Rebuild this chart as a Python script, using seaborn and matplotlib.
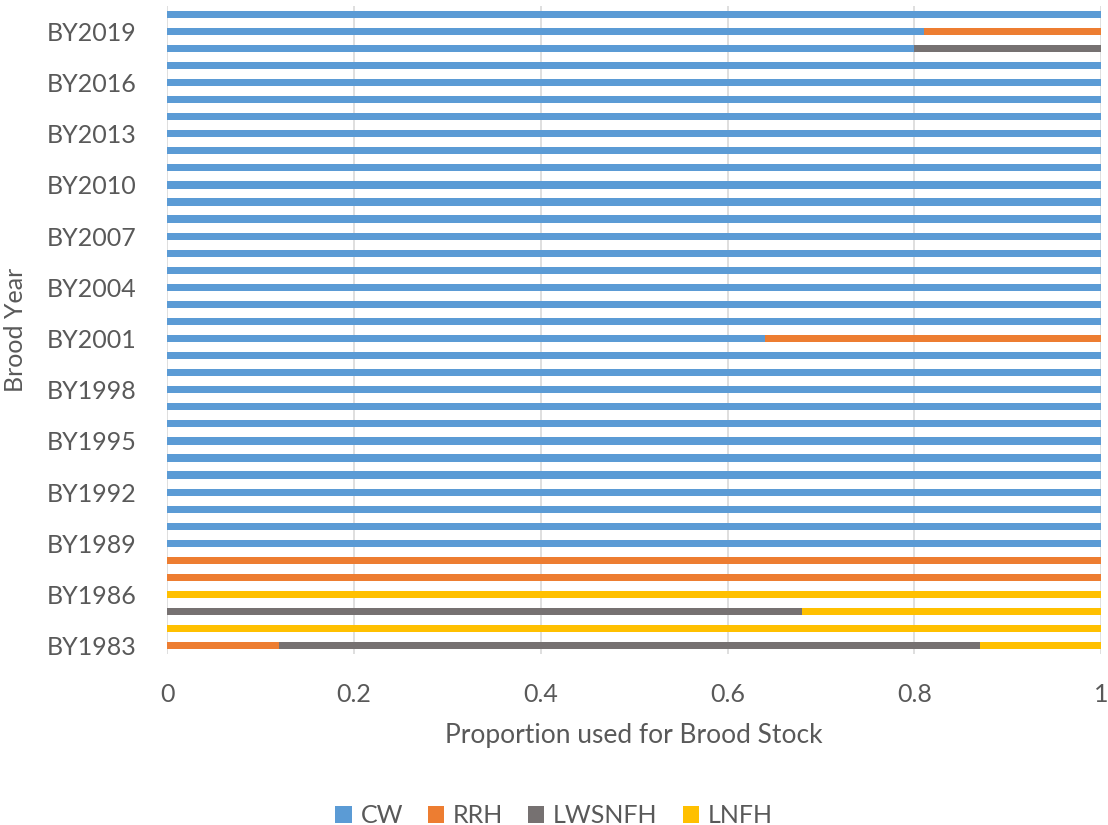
import matplotlib

matplotlib.use("Agg")

import matplotlib.pyplot as plt
import numpy as np
import pandas as pd
import seaborn as sns
from matplotlib.patches import Patch

# brood years, bottom to top
YEARS = [
    1983, 1984, 1985, 1986, 1987, 1988, 1989, 1990, 1991, 1992,
    1993, 1994, 1995, 1996, 1997, 1998, 1999, 2000, 2001, 2002,
    2003, 2004, 2005, 2006, 2007, 2008, 2009, 2010, 2011, 2012,
    2013, 2014, 2015, 2016, 2017, 2018, 2019, 2020,
]

CW = [
    0, 0, 0, 0, 0, 0, 1, 1, 1, 1,
    1, 1, 1, 1, 1, 1, 1, 1, 0.64, 1,
    1, 1, 1, 1, 1, 1, 1, 1, 1, 1,
    1, 1, 1, 1, 1, 0.80, 0.81, 1,
]
RRH = [
    0.12, 0, 0, 0, 1, 1, 0, 0, 0, 0,
    0, 0, 0, 0, 0, 0, 0, 0, 0.36, 0,
    0, 0, 0, 0, 0, 0, 0, 0, 0, 0,
    0, 0, 0, 0, 0, 0, 0.19, 0,
]
LWSNFH = [
    0.75, 0, 0.68, 0, 0, 0, 0, 0, 0, 0,
    0, 0, 0, 0, 0, 0, 0, 0, 0, 0,
    0, 0, 0, 0, 0, 0, 0, 0, 0, 0,
    0, 0, 0, 0, 0, 0.20, 0, 0,
]
LNFH = [
    0.13, 1, 0.32, 1, 0, 0, 0, 0, 0, 0,
    0, 0, 0, 0, 0, 0, 0, 0, 0, 0,
    0, 0, 0, 0, 0, 0, 0, 0, 0, 0,
    0, 0, 0, 0, 0, 0, 0, 0,
]

SERIES = ["CW", "RRH", "LWSNFH", "LNFH"]
COLORS = {"CW": "#5B9BD5", "RRH": "#ED7D31", "LWSNFH": "#767171", "LNFH": "#FFC000"}
TEXT = "#595959"

sns.set_theme(style="white")
plt.rcParams["font.family"] = ["Lato", "DejaVu Sans"]

df = pd.DataFrame({"Year": [f"BY{y}" for y in YEARS], "CW": CW, "RRH": RRH,
                   "LWSNFH": LWSNFH, "LNFH": LNFH})
cum = df[SERIES].cumsum(axis=1)
order = df["Year"].tolist()[::-1]

fig, ax = plt.subplots(figsize=(11.08, 8.25), dpi=100)
fig.subplots_adjust(left=0.151, right=0.9937, top=0.993, bottom=0.207)

# stacked bars: draw cumulative totals from largest to smallest
for name in SERIES[::-1]:
    sns.barplot(x=cum[name], y=df["Year"], order=order, color=COLORS[name],
                orient="h", width=0.42, edgecolor="none", saturation=1, ax=ax)

ax.set_xlim(0, 1)
ax.set_ylim(len(order) - 0.5, -0.5)
ax.set_xticks(np.linspace(0, 1, 6))
ax.set_xticklabels(["0", "0.2", "0.4", "0.6", "0.8", "1"])
shown = [i for i, lab in enumerate(order) if (int(lab[2:]) - 1983) % 3 == 0]
ax.set_yticks(shown)
ax.set_yticklabels([order[i] for i in shown])

ax.grid(axis="x", color="#D9D9D9", linewidth=1.2)
ax.set_axisbelow(True)
for s in ax.spines.values():
    s.set_visible(False)
ax.tick_params(axis="x", length=0, pad=21, labelsize=18, labelcolor=TEXT)
ax.tick_params(axis="y", length=0, pad=22, labelsize=18, labelcolor=TEXT)

ax.set_xlabel("Proportion used for Brood Stock", fontsize=19, color=TEXT, labelpad=12)
ax.set_ylabel("Brood Year", fontsize=18, color=TEXT, labelpad=14)

handles = [Patch(facecolor=COLORS[n], edgecolor="none", label=n) for n in SERIES]
fig.legend(handles=handles, loc="lower center", bbox_to_anchor=(0.5, -0.03), ncol=4,
           frameon=False, fontsize=18, labelcolor=TEXT, handlelength=0.65,
           handleheight=0.65, handletextpad=0.35, columnspacing=1.0)

fig.savefig("out.png", dpi=100)
